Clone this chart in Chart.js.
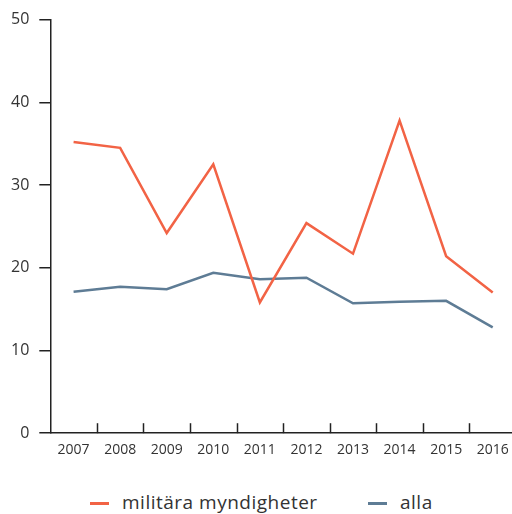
<!DOCTYPE html>
<html>
<head>
<meta charset="utf-8">
<script src="https://cdn.jsdelivr.net/npm/chart.js@4"></script>
<style>
    html, body { margin: 0; padding: 0; background: #fff; overflow: hidden; }
    body { position: relative; width: 512px; height: 514px; }
    #wrap { position: absolute; left: 0; top: 0; width: 516px; height: 458px; }
    .legend-item { position: absolute; top: 489px; display: flex; align-items: center; font-family: 'Open Sans', sans-serif; font-size: 19px; letter-spacing: 0.5px; color: #333; white-space: nowrap; }
    .legend-item i { display: inline-block; width: 19px; height: 3px; margin-right: 13px; margin-top: 3px; }
</style>
</head>
<body>
<div id="wrap"><canvas id="chart"></canvas></div>
<div id="legend"></div>
<script>
const years = ['2007', '2008', '2009', '2010', '2011', '2012', '2013', '2014', '2015', '2016'];
const militara = [35.2, 34.5, 24.2, 32.5, 15.8, 25.4, 21.7, 37.8, 21.4, 17.0];
const alla = [17.1, 17.7, 17.4, 19.4, 18.6, 18.8, 15.7, 15.9, 16.0, 12.8];
const seriesNames = ['militära myndigheter', 'alla'];
const seriesColors = ['#F26345', '#5E7C95'];

const axisColor = '#222';
const textColor = '#333';

// ticks between categories, pointing up into the plot
const innerTicks = {
    id: 'innerTicks',
    afterDraw(chart) {
        const x = chart.scales.x;
        const ctx = chart.ctx;
        ctx.save();
        ctx.strokeStyle = axisColor;
        ctx.lineWidth = 1.5;
        for (let i = 1; i < years.length; i++) {
            const px = Math.round(x.getPixelForValue(i - 0.5)) + 0.5;
            ctx.beginPath();
            ctx.moveTo(px, x.top);
            ctx.lineTo(px, x.top - 10);
            ctx.stroke();
        }
        ctx.restore();
    }
};

new Chart(document.getElementById('chart').getContext('2d'), {
    type: 'line',
    data: {
        labels: years,
        datasets: [
            { label: seriesNames[0], data: militara, borderColor: seriesColors[0], borderWidth: 2.5, pointRadius: 0, tension: 0 },
            { label: seriesNames[1], data: alla, borderColor: seriesColors[1], borderWidth: 2.5, pointRadius: 0, tension: 0 }
        ]
    },
    options: {
        responsive: true,
        maintainAspectRatio: false,
        animation: false,
        layout: { padding: { top: 14, left: 1, right: 0, bottom: 0 } },
        scales: {
            x: {
                offset: true,
                border: { color: axisColor, width: 1.5 },
                grid: { display: false },
                ticks: { color: textColor, font: { family: 'Open Sans', size: 14 }, padding: 0, maxRotation: 0 }
            },
            y: {
                min: 0,
                max: 50,
                border: { color: axisColor, width: 1.5 },
                grid: { drawOnChartArea: false, color: axisColor, lineWidth: 1.5, tickLength: 11 },
                ticks: { stepSize: 10, color: textColor, font: { family: 'Open Sans', size: 16 }, padding: 10 }
            }
        },
        plugins: {
            legend: { display: false },
            tooltip: { enabled: false }
        }
    },
    plugins: [innerTicks]
});

// legend as real text under the chart
const legendLeft = [90, 368];
const legend = document.getElementById('legend');
seriesNames.forEach((name, i) => {
    const item = document.createElement('div');
    item.className = 'legend-item';
    item.style.left = legendLeft[i] + 'px';
    item.innerHTML = `<i style="background:${seriesColors[i]}"></i><span>${name}</span>`;
    legend.appendChild(item);
});
</script>
</body>
</html>
